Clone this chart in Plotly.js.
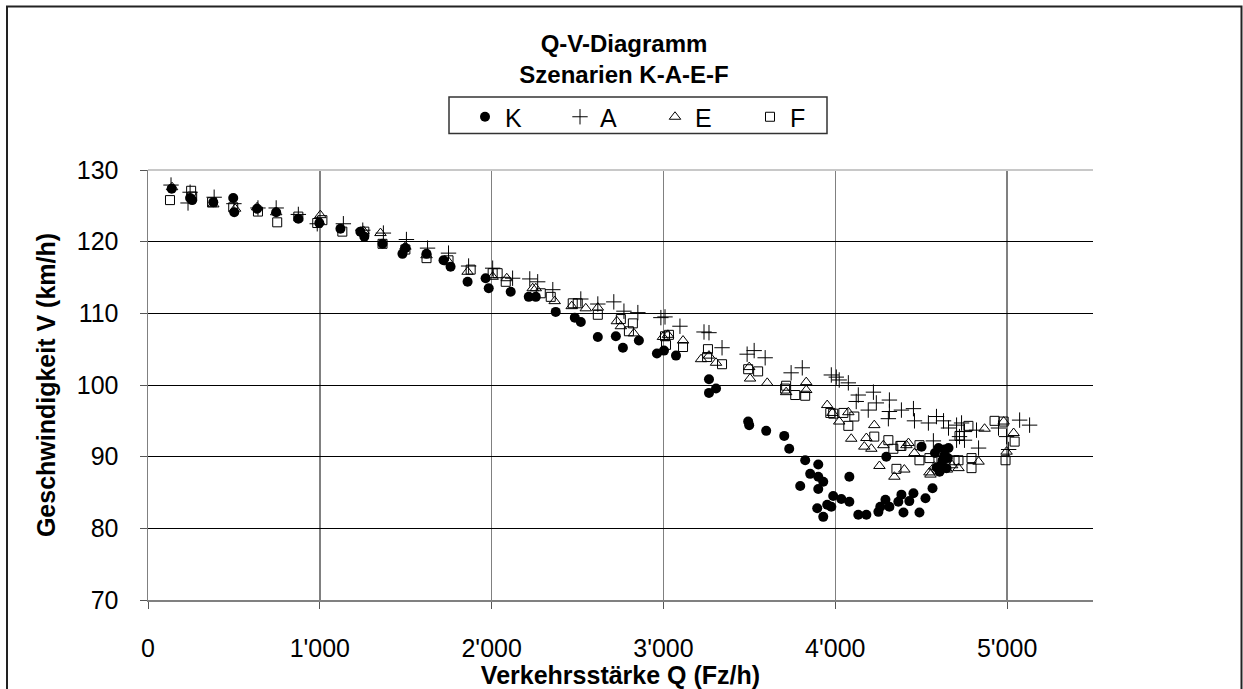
<!DOCTYPE html>
<html>
<head>
<meta charset="utf-8">
<script src="https://cdn.plot.ly/plotly-3.0.1.min.js"></script>
<style>html,body{margin:0;padding:0;background:#fff;}#chart{width:1243px;height:689px;}</style>
</head>
<body>
<div id="chart"></div>
<script>
// Scenario K (filled circles)
const kQ = [138,245,257,380,496,502,635,746,875,997,1120,1236,1259,1365,1481,1498,1621,1720,1761,1860,1965,1983,2111,2216,2257,2373,2484,2519,2618,2723,2764,2857,2962,3003,3073,3265,3306,3265,3493,3499,3598,3703,3732,3825,3901,3854,3901,3930,3796,3901,4082,3988,4035,4082,3953,3977,3895,3930,4134,4181,4251,4262,4292,4315,4367,4385,4431,4455,4397,4490,4525,4566,4297,4502,4601,4636,4659,4636,4618,4647,4607,4580,4625,4655,4590];
const kV = [127.4,126.1,125.8,125.5,126.1,124.1,124.6,124.1,123.2,122.6,121.8,121.4,120.7,119.7,118.3,119.1,118.3,117.4,116.5,114.4,114.9,113.5,113.0,112.3,112.3,110.2,109.4,108.8,106.7,106.8,105.2,106.2,104.4,104.8,104.1,100.8,99.5,98.9,94.9,94.4,93.6,92.9,91.1,89.5,88.9,87.6,87.2,86.5,85.9,85.5,87.2,84.5,84.1,83.7,83.3,83.0,82.8,81.6,81.9,81.9,82.3,83.0,84.0,83.0,83.7,84.7,83.8,84.9,82.2,82.2,84.2,85.6,90.0,91.4,91.2,91.0,91.2,90.2,88.9,88.4,87.9,90.5,89.5,89.8,88.5];

// Scenario A (crosses)
const aQ = [134,233,245,385,500,640,746,875,985,1137,1250,1370,1504,1627,1749,1866,2006,2122,2222,2268,2356,2519,2618,2711,2770,2851,2985,3009,3096,3236,3265,3341,3487,3528,3592,3743,3808,3977,4006,4023,4076,4134,4122,4222,4239,4192,4315,4315,4309,4385,4455,4461,4542,4589,4630,4659,4706,4706,4571,4735,4752,4723,4752,4822,4834,4950,4997,5009,5073,5131];
const aV = [127.9,125.4,126.9,126.2,125.3,124.7,124.7,123.8,122.5,122.5,121.6,121.2,120.3,119.1,118.4,116.6,116.3,114.9,114.8,114.4,113.3,112.0,111.3,111.6,110.3,110.1,109.4,109.5,108.2,107.4,107.3,105.2,104.3,104.8,103.8,101.7,102.4,101.4,101.1,100.7,100.3,98.6,97.7,99.0,97.5,96.5,97.9,96.3,95.3,96.5,96.7,95.0,94.7,95.6,95.0,94.0,94.4,92.3,92.2,94.7,93.5,92.8,92.3,93.7,91.2,94.0,92.8,91.0,95.1,94.4];

// Scenario E (open triangles)
const eQ = [140,380,507,635,746,1003,1254,1353,1498,1621,1749,1860,2006,2088,2239,2257,2367,2466,2548,2618,2729,2752,2828,2997,3026,3114,3219,3265,3306,3499,3504,3604,3714,3831,3831,3953,3983,4023,4076,4093,4227,4181,4169,4210,4280,4257,4344,4402,4414,4426,4461,4548,4577,4554,4717,4834,4869,4980,5038,4997,4650,4680];
const eV = [127.6,125.2,124.6,124.8,124.1,123.7,121.5,121.2,119.3,118.1,117.2,115.8,115.1,114.9,113.5,113.5,111.7,111.0,110.7,110.8,108.9,108.2,107.2,106.7,107.0,106.2,103.6,104.1,103.1,102.5,100.9,100.3,99.0,100.4,99.3,97.2,96.1,94.9,96.2,92.5,94.4,92.6,91.4,91.1,91.6,88.7,87.2,88.2,91.6,91.9,90.5,87.8,88.6,87.5,88.4,89.3,93.9,94.9,93.3,90.7,88.2,88.8];

// Scenario F (open squares)
const fQ = [128,251,257,373,496,640,752,875,985,1015,1131,1259,1365,1498,1621,1749,1878,2006,2035,2082,2286,2344,2472,2501,2618,2752,2799,2822,3009,3032,3015,3114,3259,3254,3341,3493,3551,3714,3708,3767,3825,3971,3988,4047,4111,4076,4227,4309,4338,4356,4379,4385,4490,4490,4548,4618,4694,4717,4793,4793,4775,4723,4927,4980,5044,4991];
const fV = [125.8,127.1,126.3,125.5,124.8,124.2,122.7,123.5,122.6,123.0,121.4,121.4,119.7,118.9,117.7,117.4,116.1,115.6,115.6,114.4,112.8,112.3,111.4,111.4,109.8,109.2,107.5,108.6,106.8,107.0,105.6,105.3,105.0,103.9,102.9,102.2,101.9,99.9,99.5,98.6,98.5,96.1,96.0,96.1,95.6,94.3,92.8,92.3,91.1,88.3,91.5,91.5,91.6,89.5,89.8,89.5,89.5,89.5,89.8,88.4,94.3,92.9,95.0,94.9,92.1,89.5];

const xTickVals = [0,1000,2000,3000,4000,5000];
const xTickText = ["0","1'000","2'000","3'000","4'000","5'000"];
const yTickVals = [70,80,90,100,110,120,130];

const FONT = 'Liberation Sans, Arial, sans-serif';

const traces = [
  {x:kQ, y:kV, name:'K', type:'scatter', mode:'markers',
   marker:{symbol:'circle', size:10, color:'#000'}},
  {x:aQ, y:aV, name:'A', type:'scatter', mode:'markers',
   marker:{symbol:'cross-thin-open', size:11, color:'#000', line:{color:'#000', width:1}}},
  {x:eQ, y:eV, name:'E', type:'scatter', mode:'markers',
   marker:{symbol:'triangle-up-open', size:10, color:'#000', line:{color:'#000', width:1}}},
  {x:fQ, y:fV, name:'F', type:'scatter', mode:'markers',
   marker:{symbol:'square-open', size:9, color:'#000', line:{color:'#000', width:1}}}
];

// helpers converting page pixels to paper fractions (plot area 148..1093 x 170..600)
const px = v => (v-148)/945;
const py = v => (600-v)/430;

const layout = {
  width:1243, height:689,
  margin:{l:148, r:150, t:170, b:89, pad:0},
  paper_bgcolor:'#fff', plot_bgcolor:'#fff',
  font:{family:FONT, color:'#000', size:25},
  title:{text:'Q-V-Diagramm<br>Szenarien K-A-E-F', x:0.502, xref:'container', xanchor:'center',
         y:1-52/689, yref:'container', yanchor:'top',
         font:{family:FONT, size:24, weight:'bold', color:'#000'}},
  showlegend:true,
  legend:{orientation:'h', x:px(465), xanchor:'left', y:py(94), yanchor:'top',
          borderwidth:0, bgcolor:'rgba(0,0,0,0)',
          font:{family:FONT, size:25, color:'#000'}, itemwidth:30, entrywidth:50, traceorder:'normal'},
  xaxis:{range:[0,5500], tickvals:xTickVals, ticktext:xTickText, showgrid:true, gridcolor:'#808080', gridwidth:1.5,
         showline:true, linecolor:'#808080', linewidth:1.5, zeroline:false, ticks:'outside', ticklen:7, tickcolor:'#555',
         tickfont:{family:FONT, size:25, color:'#000'}, ticklabelstandoff:18,
         title:{text:'Verkehrsstärke Q (Fz/h)', standoff:6, font:{family:FONT, size:25, weight:'bold', color:'#000'}}},
  yaxis:{range:[70,130], tickvals:yTickVals, showgrid:true, gridcolor:'#000', gridwidth:1,
         showline:true, linecolor:'#808080', linewidth:1.5, zeroline:false, ticks:'outside', ticklen:7, tickcolor:'#555',
         tickfont:{family:FONT, size:25, color:'#000'}, ticklabelstandoff:16,
         title:{text:'Geschwindigkeit V (km/h)', standoff:14, font:{family:FONT, size:25, weight:'bold', color:'#000'}}},
  shapes:[
    {type:'line', xref:'paper', yref:'paper', x0:0, x1:1, y0:1, y1:1, line:{color:'#c8c8c8', width:2}, layer:'above'},
    {type:'rect', xref:'paper', yref:'paper', x0:px(449), x1:px(827), y0:py(133.5), y1:py(97),
     line:{color:'#333', width:1.5}, fillcolor:'rgba(0,0,0,0)', layer:'above'},
    {type:'rect', xref:'paper', yref:'paper', x0:px(7), x1:px(1241.5), y0:py(700), y1:py(6.5),
     line:{color:'#222', width:2}, fillcolor:'rgba(0,0,0,0)', layer:'above'}
  ]
};

Plotly.newPlot('chart', traces, layout, {displayModeBar:false, staticPlot:true});
</script>
</body>
</html>
